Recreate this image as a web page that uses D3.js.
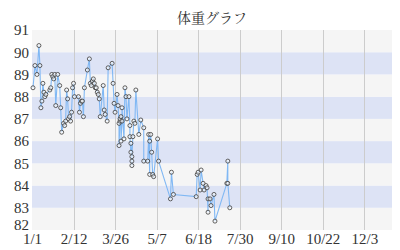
<!DOCTYPE html>
<html><head><meta charset="utf-8">
<script src="https://cdn.jsdelivr.net/npm/d3@7"></script>
<style>body{margin:0;background:#fff}svg{display:block}</style>
</head><body>
<svg id="c" width="400" height="250"></svg>
<script>
const title = "体重グラフ";
const year = 2023;
const dates = ["1/2","1/4","1/6","1/8","1/9","1/10","1/11","1/12","1/13","1/14","1/15","1/19","1/20","1/21","1/22","1/23","1/24","1/25","1/27","1/29","1/30","1/31","2/2","2/3","2/4","2/5","2/6","2/7","2/8","2/9","2/10","2/11","2/12","2/13","2/17","2/18","2/19","2/20","2/21","2/22","2/23","2/26","2/28","3/1","3/2","3/3","3/4","3/5","3/6","3/7","3/8","3/9","3/10","3/11","3/14","3/15","3/16","3/18","3/19","3/23","3/24","3/25","3/26","3/28","3/29","3/30","3/30","3/31","3/31","4/1","4/1","4/2","4/2","4/4","4/5","4/6","4/7","4/9","4/10","4/10","4/11","4/11","4/12","4/12","4/12","4/13","4/14","4/15","4/16","4/19","4/21","4/24","4/24","4/28","4/29","4/30","4/30","5/1","5/2","5/3","5/4","5/8","5/9","5/21","5/22","5/24","6/16","6/17","6/18","6/20","6/21","6/23","6/24","6/26","6/27","6/28","6/28","6/30","7/1","7/4","7/5","7/17","7/18","7/18","7/20"];
const weights = [88.4,89.4,89.0,90.3,89.4,87.5,87.8,88.6,88.2,88.0,88.1,88.3,88.4,89.0,88.9,88.8,89.0,87.6,89.0,88.5,87.5,86.4,86.8,86.7,86.9,88.3,87.9,87.0,87.1,86.9,87.3,88.4,88.6,88.0,88.0,87.3,87.7,87.8,87.8,87.1,88.4,89.2,89.7,88.6,88.5,88.7,88.8,88.6,88.4,88.4,88.2,88.1,87.9,87.1,88.5,87.4,87.2,86.9,89.3,89.5,88.6,87.7,87.3,88.1,87.6,86.8,85.8,86.9,87.0,87.1,86.0,86.9,87.5,86.1,88.4,88.0,87.0,88.0,86.7,86.2,85.5,85.9,85.1,84.9,85.3,86.2,86.9,86.8,88.3,86.3,86.95,86.6,85.1,85.1,86.3,84.5,86.0,86.3,85.5,84.5,84.4,86.1,85.1,83.4,84.6,83.6,83.5,84.5,84.6,83.8,84.7,84.1,83.8,84.0,83.9,82.8,83.4,83.4,83.1,83.6,82.4,84.1,85.1,84.1,83.0];
const yTicks = [82,83,84,85,86,87,88,89,90,91];
const xTickLabels = ["1/1","2/12","3/26","5/7","6/18","7/30","9/10","10/22","12/3"];
const xDomain = ["1/1","12/31"];

const parse = s => { const [m,d] = s.split("/").map(Number); return new Date(year, m-1, d); };
const data = dates.map((d,i)=>({date:parse(d), w:weights[i]}));

const svg = d3.select("#c");
const W=400, H=250, m={l:32,r:8,t:30,b:20};
const x = d3.scaleTime().domain([parse(xDomain[0]), parse(xDomain[1])]).range([m.l, W-m.r]);
const y = d3.scaleLinear().domain([82,91]).range([H-m.b, m.t]);

// bands
const bands = d3.range(82,91);
svg.append("g").selectAll("rect").data(bands).join("rect")
  .attr("x", m.l).attr("width", W-m.r-m.l)
  .attr("y", d=>y(d+1)).attr("height", d=>y(d)-y(d+1))
  .attr("fill", d=> (d%2===1) ? "#dde3f5" : "#f5f5f5");

// vertical grid
const xt = xTickLabels.map(parse);
svg.append("g").selectAll("line").data(xt.slice(1)).join("line")
  .attr("x1", d=>Math.round(x(d))+0.5).attr("x2", d=>Math.round(x(d))+0.5)
  .attr("y1", m.t).attr("y2", H-m.b).attr("stroke","#cccccc").attr("stroke-width",1);

// axes
const fontNum = "'Liberation Serif','DejaVu Serif',serif";
const yAxis = svg.append("g").attr("transform",`translate(${m.l},0)`)
  .call(d3.axisLeft(y).tickValues(yTicks).tickSize(0).tickPadding(3).tickFormat(d3.format("d")));
yAxis.select(".domain").remove();
yAxis.selectAll("text").attr("font-family",fontNum).attr("font-size",15).attr("fill","#333")
  .attr("dy", d=> d===82 ? "-0.05em" : "0.32em");

const xAxis = svg.append("g").attr("transform",`translate(0,${H-m.b})`)
  .call(d3.axisBottom(x).tickValues(xt).tickSize(0).tickPadding(3).tickFormat((d,i)=>xTickLabels[i]));
xAxis.select(".domain").remove();
xAxis.selectAll("text").attr("font-family",fontNum).attr("font-size",15).attr("fill","#333");

// title
svg.append("text").attr("x",(m.l+W-m.r)/2).attr("y",23).attr("text-anchor","middle")
  .attr("font-family","'Noto Serif CJK JP','Noto Sans CJK JP',serif").attr("font-size",14).attr("fill","#333")
  .text(title);

// line
svg.append("path").datum(data)
  .attr("d", d3.line().x(d=>x(d.date)).y(d=>y(d.w)))
  .attr("fill","none").attr("stroke","#80b8f4").attr("stroke-width",1.1);

svg.append("g").selectAll("circle").data(data).join("circle")
  .attr("cx", d=>x(d.date)).attr("cy", d=>y(d.w)).attr("r",2)
  .attr("fill","rgba(255,255,255,0.6)").attr("stroke","#3a3a3a").attr("stroke-width",0.8);
</script>
</body></html>
